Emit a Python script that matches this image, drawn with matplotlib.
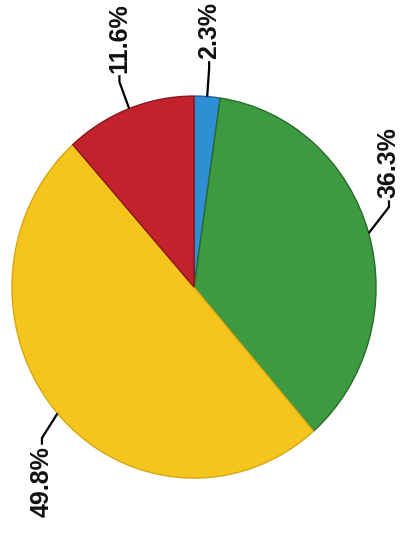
import numpy as np
import matplotlib.pyplot as plt

shares = [2.3, 36.3, 49.8, 11.6]
labels = ["2.3%", "36.3%", "49.8%", "11.6%"]
colors = ["#2e8fd5", "#3e9a40", "#f6c51d", "#c3212b"]
edges = ["#1f5f95", "#276b2a", "#d4a812", "#8a151c"]
# small angular nudge per leader line (degrees)
nudge = [0, -5, -2, 0]

fig = plt.figure(figsize=(4.01, 5.35), dpi=100)
ax = fig.add_axes([0, 0, 1, 1])

wedges, _ = ax.pie(shares, colors=colors, startangle=90, counterclock=False,
                   wedgeprops=dict(linewidth=1.0))
for w, ec in zip(wedges, edges):
    w.set_edgecolor(ec)

# stretch the pie a little taller than wide
ax.set_aspect("auto")
ax.set_xlim(-1.066, 1.137)
ax.set_ylim(-1.298, 1.503)
ax.axis("off")

cum = np.cumsum([0] + shares[:-1])
for i, (s, c0, lab) in enumerate(zip(shares, cum, labels)):
    mid = np.deg2rad((c0 + s / 2) * 3.6)
    ex, ey = np.sin(mid), np.cos(mid)
    a = mid + np.deg2rad(nudge[i])
    kx, ky = 1.15 * np.sin(a), 1.15 * np.cos(a)
    up = 1 if ky > 0 else -1
    tx, ty = kx, ky + up * 0.035
    ax.plot([ex, kx, tx], [ey, ky, ty], color="black", lw=1.6,
            solid_capstyle="butt")
    ax.text(tx, ty + up * 0.01, lab, rotation=90, ha="center",
            va="bottom" if up > 0 else "top", fontsize=18,
            fontweight="bold", family="Liberation Sans", color="#111111")

fig.savefig("out.png", dpi=100)
